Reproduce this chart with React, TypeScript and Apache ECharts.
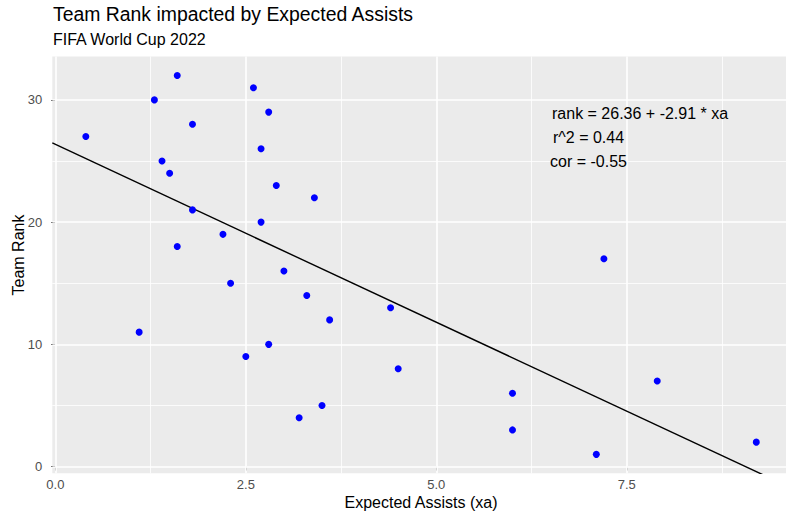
import React, { useEffect, useRef } from "react";
import * as echarts from "echarts";

const xa: number[] = [0.4, 1.3, 1.6, 1.8, 1.4, 1.5, 1.8, 1.6, 1.1, 2.2, 2.3, 2.5, 2.6, 2.8, 2.7, 2.9, 2.7, 3.4, 3.0, 3.3, 3.6, 2.8, 3.2, 3.5, 4.4, 4.5, 6.0, 6.0, 7.2, 7.1, 7.9, 9.2];
const rank: number[] = [27, 30, 32, 28, 25, 24, 21, 18, 11, 19, 15, 9, 31, 29, 26, 23, 20, 22, 16, 14, 12, 10, 4, 5, 13, 8, 6, 3, 17, 1, 7, 2];

const intercept = 26.36;
const slope = -2.91;
const rSquared = 0.44;
const correlation = -0.55;

const xMajor: number[] = [0, 2.5, 5, 7.5];
const xMinor: number[] = [1.25, 3.75, 6.25, 8.75];
const yMajor: number[] = [0, 10, 20, 30];
const yMinor: number[] = [5, 15, 25];

const X_MIN = -0.04;
const X_MAX = 9.59;
const Y_MIN = -0.55;
const Y_MAX = 33.55;

const FONT = "'Liberation Sans', Arial, Helvetica, sans-serif";

export default function App() {
  const ref = useRef<HTMLDivElement>(null);

  useEffect(() => {
    if (!ref.current) return;
    const chart = echarts.init(ref.current, undefined, { renderer: "svg" });

    const points = xa.map((x, i) => [x, rank[i]]);
    const fitLine = [
      [X_MIN, intercept + slope * X_MIN],
      [X_MAX, intercept + slope * X_MAX],
    ];

    const gridLines = [
      ...xMinor.map((v) => ({ xAxis: v, lineStyle: { width: 0.8 } })),
      ...yMinor.map((v) => ({ yAxis: v, lineStyle: { width: 0.8 } })),
      ...xMajor.map((v) => ({ xAxis: v, lineStyle: { width: 1.6 } })),
      ...yMajor.map((v) => ({ yAxis: v, lineStyle: { width: 1.6 } })),
    ];

    chart.setOption({
      animation: false,
      backgroundColor: "#ffffff",
      textStyle: { fontFamily: FONT },
      grid: {
        left: 52.3,
        right: 0,
        top: 56.5,
        bottom: 42.7,
        show: true,
        backgroundColor: "#ebebeb",
        borderWidth: 0,
      },
      xAxis: {
        type: "value",
        min: X_MIN,
        max: X_MAX,
        axisLine: { show: false },
        splitLine: { show: false },
        axisTick: {
          show: true,
          customValues: xMajor,
          length: 4,
          lineStyle: { color: "#333333", width: 1 },
        },
        axisLabel: {
          customValues: xMajor,
          formatter: (v: number) => v.toFixed(1),
          color: "#4d4d4d",
          fontSize: 13,
          margin: 5,
          fontFamily: FONT,
        },
      },
      yAxis: {
        type: "value",
        min: Y_MIN,
        max: Y_MAX,
        axisLine: { show: false },
        splitLine: { show: false },
        axisTick: {
          show: true,
          customValues: yMajor,
          length: 4,
          lineStyle: { color: "#333333", width: 1 },
        },
        axisLabel: {
          customValues: yMajor,
          formatter: (v: number) => String(Math.round(v)),
          color: "#4d4d4d",
          fontSize: 13,
          margin: 10,
          fontFamily: FONT,
        },
      },
      series: [
        {
          type: "scatter",
          data: points,
          symbol: "circle",
          symbolSize: 7,
          itemStyle: { color: "#0000ff", opacity: 1 },
          z: 4,
          silent: true,
          markLine: {
            silent: true,
            z: 1,
            symbol: ["none", "none"],
            label: { show: false },
            lineStyle: { color: "#ffffff", type: "solid", opacity: 1 },
            emphasis: { disabled: true },
            data: gridLines,
          },
        },
        {
          type: "line",
          data: fitLine,
          showSymbol: false,
          symbol: "none",
          clip: true,
          z: 3,
          silent: true,
          lineStyle: { color: "#000000", width: 1.4 },
        },
      ],
      graphic: [
        {
          type: "text",
          x: 53,
          y: 14,
          style: {
            text: "Team Rank impacted by Expected Assists",
            fontSize: 19.4,
            fontFamily: FONT,
            fill: "#000000",
            align: "left",
            verticalAlign: "middle",
          },
        },
        {
          type: "text",
          x: 53,
          y: 39.5,
          style: {
            text: "FIFA World Cup 2022",
            fontSize: 16,
            fontFamily: FONT,
            fill: "#000000",
            align: "left",
            verticalAlign: "middle",
          },
        },
        {
          type: "text",
          x: 421,
          y: 502,
          style: {
            text: "Expected Assists (xa)",
            fontSize: 16,
            fontFamily: FONT,
            fill: "#000000",
            align: "center",
            verticalAlign: "middle",
          },
        },
        {
          type: "text",
          x: 18.5,
          y: 255,
          rotation: Math.PI / 2,
          style: {
            text: "Team Rank",
            fontSize: 16,
            fontFamily: FONT,
            fill: "#000000",
            align: "center",
            verticalAlign: "middle",
          },
        },
        {
          type: "text",
          x: 552,
          y: 113,
          z: 10,
          style: {
            text: `rank = ${intercept.toFixed(2)} + ${slope.toFixed(2)} * xa`,
            fontSize: 16,
            fontFamily: FONT,
            fill: "#000000",
            align: "left",
            verticalAlign: "middle",
          },
        },
        {
          type: "text",
          x: 553,
          y: 137,
          z: 10,
          style: {
            text: `r^2 = ${rSquared.toFixed(2)}`,
            fontSize: 16,
            fontFamily: FONT,
            fill: "#000000",
            align: "left",
            verticalAlign: "middle",
          },
        },
        {
          type: "text",
          x: 550,
          y: 161.5,
          z: 10,
          style: {
            text: `cor = ${correlation.toFixed(2)}`,
            fontSize: 16,
            fontFamily: FONT,
            fill: "#000000",
            align: "left",
            verticalAlign: "middle",
          },
        },
      ],
    });

    return () => {
      chart.dispose();
    };
  }, []);

  return (
    <div
      ref={ref}
      style={{ position: "fixed", left: 0, top: 0, width: 786, height: 516, background: "#ffffff" }}
    />
  );
}
